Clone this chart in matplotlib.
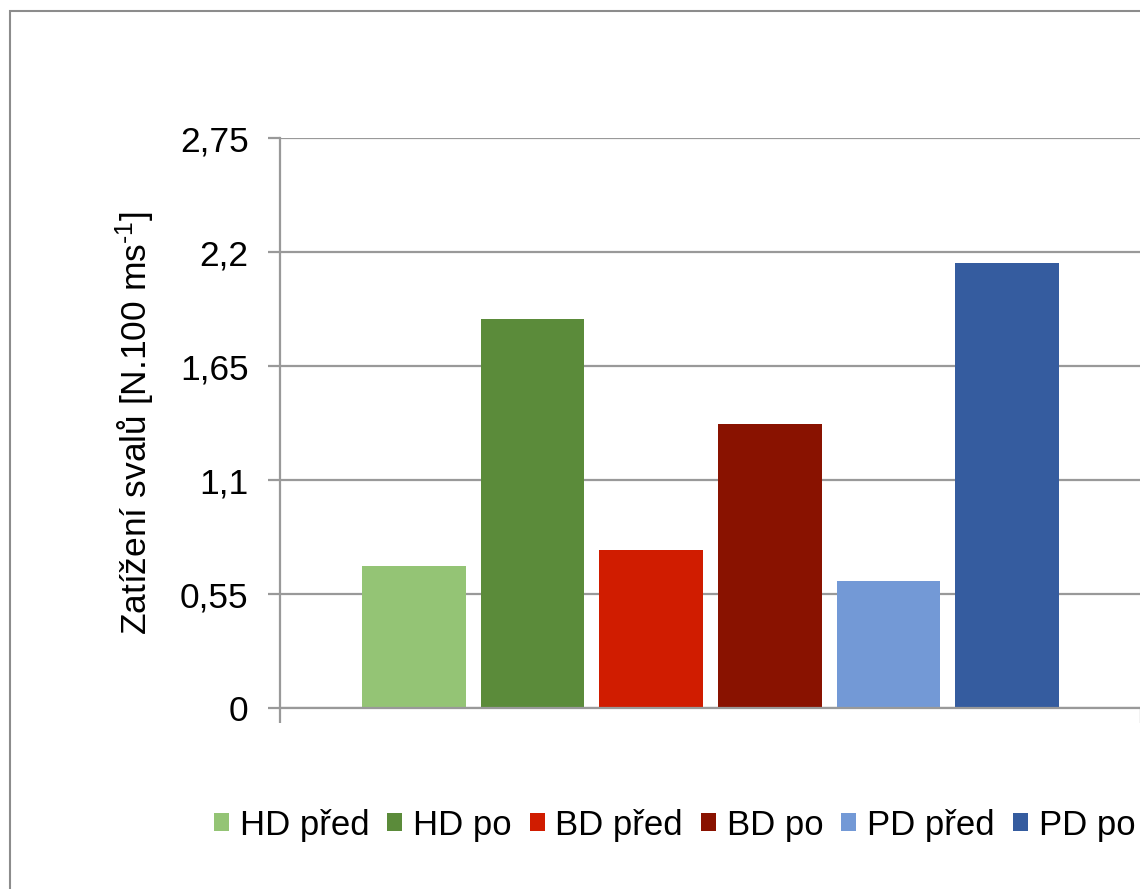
import numpy as np
import matplotlib
matplotlib.use("Agg")
import matplotlib.pyplot as plt
from matplotlib.patches import Rectangle
from matplotlib.ticker import FuncFormatter

plt.rcParams['font.family'] = ['Liberation Sans', 'DejaVu Sans']
plt.rcParams['mathtext.default'] = 'regular'

# data
series = ["HD před", "HD po", "BD před", "BD po", "PD před", "PD po"]
values = [0.685, 1.877, 0.762, 1.370, 0.613, 2.147]
colors = ["#94C475", "#5B8B3A", "#D01C00", "#891200", "#7399D6", "#355C9F"]
yticks = [0, 0.55, 1.1, 1.65, 2.2, 2.75]

W, H = 1140, 889
fs = 25.5
fig = plt.figure(figsize=(W / 100, H / 100), dpi=100)
fig.patch.set_facecolor("white")

# outer chart border (cut off right and bottom)
fig.patches.append(Rectangle((10 / W, -0.2), 1.5, 1.2 - 11 / H,
                             transform=fig.transFigure, fill=False,
                             edgecolor="#8c8c8c", linewidth=1.5))

ax = fig.add_axes([280 / W, (H - 708) / H, 861 / W, 570 / H])

x = np.arange(len(series))
for i in range(len(series)):
    ax.bar(x[i], values[i], width=0.874, color=colors[i], label=series[i], zorder=3)

pad = 1.126
ax.set_xlim(-pad, len(series) - 1 + pad)
ax.set_ylim(0, 2.75)
ax.set_yticks(yticks)
ax.yaxis.set_major_formatter(FuncFormatter(lambda v, p: ("%g" % v).replace(".", ",")))
ax.set_xticks([-pad, len(series) - 1 + pad])
ax.set_xticklabels([])

gray = "#999999"
ax.grid(axis="y", color=gray, linewidth=1.6, zorder=0)
for s in ["top", "right"]:
    ax.spines[s].set_visible(False)
for s in ["left", "bottom"]:
    ax.spines[s].set_color(gray)
    ax.spines[s].set_linewidth(1.6)
    ax.spines[s].set_zorder(4)

ax.tick_params(axis="y", length=8.6, width=1.6, color=gray, pad=14, labelsize=fs)
ax.tick_params(axis="x", length=11, width=1.6, color=gray)

ax.set_ylabel("Zatížení svalů [N.100 ms$^{\u20101}$]", fontsize=fs)
ax.yaxis.set_label_coords(-0.143, 0.5)

fig.legend(loc="center left", bbox_to_anchor=(214 / W, (H - 825) / H), ncol=6,
           frameon=False, fontsize=25, handlelength=0.43, handleheight=0.43,
           handletextpad=0.31, columnspacing=0.52, borderpad=0, borderaxespad=0)

fig.savefig("out.png", dpi=100)
